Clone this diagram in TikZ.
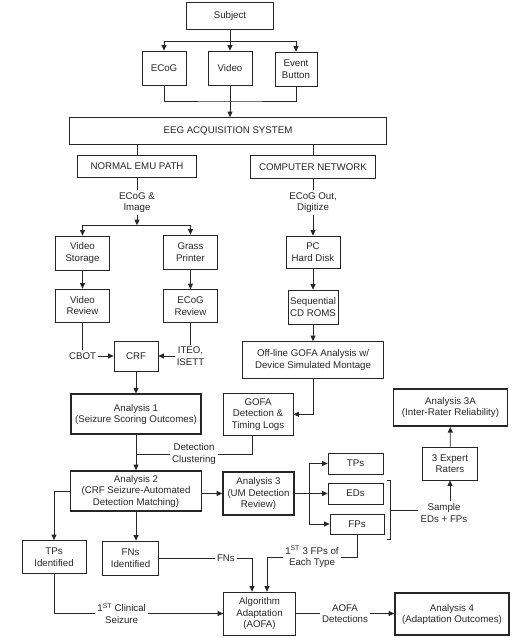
\documentclass[tikz,border=0pt]{standalone}
\usepackage{fontspec}
\setmainfont{Liberation Sans}
\usepackage{tikz}
\usepackage{xcolor}
\usetikzlibrary{arrows.meta}
\tikzset{
    plain-box/.style = {draw=black!85, text=black!85, line width=0.8pt, rectangle, align=center, inner sep=1pt, font=\fontsize{9.7}{11.5}\selectfont},
    bold-box/.style = {plain-box, line width=1.7pt},
    wh/.style 2 args = {minimum width=#1pt, minimum height=#2pt},
    flow-line/.style = {draw=black!85, line width=0.8pt},
    flow-arrow/.style = {flow-line, -{Triangle[length=5.5pt, width=5pt]}},
    flow-label/.style = {fill=white, text=black!85, align=center, inner sep=2pt, font=\fontsize{9.7}{11.5}\selectfont},
}
\begin{document}
\begin{tikzpicture}[x=1pt, y=-1pt]
\useasboundingbox (0,0) rectangle (527,638);

\node[plain-box, wh={87}{27}] (subject) at (230,16) {Subject};
\node[plain-box, wh={44}{34}] (ecog) at (164,68) {ECoG};
\node[plain-box, wh={44}{34}] (video) at (230,68) {Video};
\node[plain-box, wh={42}{34}] (event) at (296,69) {Event\\Button};
\node[plain-box, wh={317}{27}] (eeg) at (228,131) {EEG ACQUISITION SYSTEM};

\node[plain-box, wh={119}{22}] (emu) at (137,166.5) {NORMAL EMU PATH};
\node[plain-box, wh={125}{23}] (network) at (313,167) {COMPUTER NETWORK};
\node[flow-label] (ecog-image) at (137,202.5) {ECoG \&\\Image};
\node[flow-label] (ecog-out) at (313,202.5) {ECoG Out,\\Digitize};
\node[plain-box, wh={54}{34}] (vid-storage) at (82.5,253) {Video\\Storage};
\node[plain-box, wh={54}{34}] (grass) at (190.5,252) {Grass\\Printer};
\node[plain-box, wh={54}{32}] (pc-disk) at (313,252) {PC\\Hard Disk};
\node[plain-box, wh={54}{33}] (vid-review) at (82.5,305.5) {Video\\Review};
\node[plain-box, wh={54}{33}] (ecog-review) at (190.5,306) {ECoG\\Review};
\node[plain-box, wh={50}{34}] (cd-roms) at (313,307) {Sequential\\CD ROMS};

\node[flow-label] (cbot) at (82.5,356) {CBOT};
\node[plain-box, wh={44}{30}] (crf) at (136,356) {CRF};
\node[flow-label] (iteo) at (190.5,356) {ITEO,\\ISETT};
\node[plain-box, wh={141}{37}] (offline) at (313,360) {Off-line GOFA Analysis w/\\Device Simulated Montage};

\node[bold-box, wh={130}{40}] (analysis-1) at (136,414.3) {Analysis 1\\(Seizure Scoring Outcomes)};
\node[plain-box, wh={70}{42}] (gofa-logs) at (258,414.3) {GOFA\\Detection \&\\Timing Logs};
\node[bold-box, wh={114}{37}] (analysis-3a) at (450.5,407.7) {Analysis 3A\\(Inter-Rater Reliability)};
\node[bold-box, wh={131}{40}] (analysis-2) at (136,491) {Analysis 2\\(CRF Seizure-Automated\\Detection Matching)};
\node[bold-box, wh={71}{43}] (analysis-3) at (258.5,493.5) {Analysis 3\\(UM Detection\\Review)};
\node[plain-box, wh={55}{21}] (tps) at (355.5,463.5) {TPs};
\node[plain-box, wh={55}{21}] (eds) at (355.5,493.5) {EDs};
\node[plain-box, wh={54}{20}] (fps) at (357,524) {FPs};
\node[plain-box, wh={55}{33}] (raters) at (450,463.5) {3 Expert\\Raters};
\node[flow-label] (sample) at (444,513) {Sample\\EDs + FPs};

\node[plain-box, wh={64}{33}] (tps-found) at (54,557) {TPs\\Identified};
\node[plain-box, wh={56}{34}] (fns-found) at (130.5,558) {FNs\\Identified};
\node[plain-box, wh={72}{43}] (adaptation) at (259.5,613.5) {Algorithm\\Adaptation\\(AOFA)};
\node[bold-box, wh={114}{42}] (analysis-4) at (452,614.3) {Analysis 4\\(Adaptation Outcomes)};

\coordinate (split-top) at (230,41.3);
\coordinate (join-top) at (230,101);
\coordinate (split-emu) at (137,225.2);
\coordinate (cluster-join) at (136,454);
\coordinate (split-out) at (309,493.5);
\coordinate (fp-bend) at (267,557);
\coordinate (brace-top) at (390,480);
\coordinate (brace-bot) at (390,539);
\coordinate (brace-mid) at (390,510);

\draw[flow-arrow] (subject) -- (video);
\draw[flow-line] (ecog.north |- split-top) -- (event.north |- split-top);
\draw[flow-arrow] (ecog.north |- split-top) -- (ecog.north);
\draw[flow-arrow] (event.north |- split-top) -- (event.north);
\draw[flow-line] (ecog.south) |- (join-top) -| (event.south);
\draw[flow-arrow] (video.south) -- (video.south |- eeg.north);
\draw[flow-line] (emu.north |- eeg.south) -- (emu.north);
\draw[flow-line] (network.north |- eeg.south) -- (network.north);

\draw[flow-line] (emu) -- (ecog-image);
\draw[flow-arrow] (ecog-image) -- (split-emu);
\draw[flow-line] (vid-storage.north |- split-emu) -- (grass.north |- split-emu);
\draw[flow-arrow] (vid-storage.north |- split-emu) -- (vid-storage.north);
\draw[flow-arrow] (grass.north |- split-emu) -- (grass.north);
\draw[flow-line] (network) -- (ecog-out);
\draw[flow-arrow] (ecog-out) -- (pc-disk);
\draw[flow-arrow] (vid-storage) -- (vid-review);
\draw[flow-arrow] (grass) -- (ecog-review);
\draw[flow-arrow] (pc-disk) -- (cd-roms);
\draw[flow-arrow] (cd-roms) -- (offline);

\draw[flow-line] (vid-review) -- (cbot);
\draw[flow-arrow] (cbot) -- (crf);
\draw[flow-line] (ecog-review) -- (iteo);
\draw[flow-arrow] (iteo) -- (crf);
\draw[flow-arrow] (crf) -- (analysis-1);
\draw[flow-arrow] (offline.south) |- (gofa-logs.east);
\draw[flow-arrow] (analysis-1) -- (analysis-1.south |- analysis-2.north);
\draw[flow-line] ([xshift=-6pt]gofa-logs.south) |- node[flow-label, pos=0.75] {Detection\\Clustering} (cluster-join);

\draw[flow-arrow] (analysis-3.west -| analysis-2.east) -- (analysis-3.west);
\draw[flow-arrow] (analysis-3.east) -- (eds.west);
\draw[flow-line] (tps.west -| split-out) -- (fps.west -| split-out);
\draw[flow-arrow] (tps.west -| split-out) -- (tps.west);
\draw[flow-arrow] (fps.west -| split-out) -- (fps.west);
\draw[flow-line] ([xshift=-3pt]brace-top) -- (brace-top) -- (brace-bot) -- ([xshift=-3pt]brace-bot);
\draw[flow-line] (brace-mid) -- (brace-mid -| sample.west);
\draw[flow-arrow] (raters.south |- sample.north) -- (raters.south);
\draw[flow-arrow] (raters) -- (analysis-3a);

\draw[flow-arrow] (analysis-2.west) -| (tps-found.north);
\draw[flow-arrow] (analysis-2.south) -- (analysis-2.south |- fns-found.north);
\draw[flow-arrow] (fns-found.east) -| node[flow-label, pos=0.36] {FNs} ([xshift=-7.5pt]adaptation.north);
\draw[flow-arrow] (fps.south) |- node[flow-label, pos=0.75] {1\textsuperscript{ST} 3 FPs of\\Each Type} (fp-bend) -- (fp-bend |- adaptation.north);
\draw[flow-arrow] (tps-found.south) |- node[flow-label, pos=0.7] {1\textsuperscript{ST} Clinical\\Seizure} (adaptation.west);
\draw[flow-arrow] (adaptation.east) -- node[flow-label] {AOFA\\Detections} (adaptation.east -| analysis-4.west);
\end{tikzpicture}
\end{document}
